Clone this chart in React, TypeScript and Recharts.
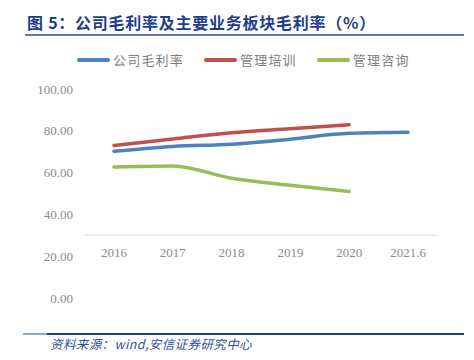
import * as React from "react";
import { LineChart, Line, XAxis, YAxis, ReferenceLine, ReferenceDot } from "recharts";

// 毛利率 (%)
const years = ["2016", "2017", "2018", "2019", "2020", "2021.6"];
const companyMargin = [70.2, 72.5, 73.6, 76.0, 78.8, 79.3];
const trainingMargin = [73.0, 76.1, 79.1, 81.0, 82.9, null];
const consultingMargin = [62.7, 63.2, 57.3, 53.9, 51.0, null];
const yTicks = [0, 20, 40, 60, 80, 100];
const axisCross = 30;

const COLORS = {
  company: "#4F81BD",
  training: "#C0504D",
  consulting: "#9BBB59",
  tick: "#8C8C8C",
  axis: "#E3E3E3",
  title: "#1F3E8C",
  titleRule: "#5F79B8",
  footer: "#2F4F9E",
  footerRule: "#1F3C88",
};

const SERIES = [
  { key: "company", name: "公司毛利率", color: COLORS.company },
  { key: "training", name: "管理培训", color: COLORS.training },
  { key: "consulting", name: "管理咨询", color: COLORS.consulting },
];

const data = years.map((year, i) => ({
  year,
  company: companyMargin[i],
  training: trainingMargin[i],
  consulting: consultingMargin[i],
}));

const serif = '"Liberation Serif", "DejaVu Serif", serif';
const cjk = '"Noto Sans CJK SC", "Noto Sans", sans-serif';

function YearLabel(props: any) {
  const { viewBox, value } = props;
  return (
    <text
      x={viewBox.x + viewBox.width / 2}
      y={viewBox.y + viewBox.height / 2 + 22}
      textAnchor="middle"
      fill={COLORS.tick}
      fontSize={13}
      fontFamily={serif}
    >
      {value}
    </text>
  );
}

export default function App() {
  return (
    <div
      style={{
        position: "absolute",
        left: 0,
        top: 0,
        width: 474,
        height: 360,
        background: "#FFFFFF",
        overflow: "hidden",
      }}
    >
      <div
        style={{
          position: "absolute",
          left: 27,
          top: 12,
          fontFamily: cjk,
          fontWeight: 700,
          fontSize: 16,
          letterSpacing: 0.75,
          color: COLORS.title,
          whiteSpace: "nowrap",
          lineHeight: "20px",
        }}
      >
        图 5：公司毛利率及主要业务板块毛利率（%）
      </div>
      <div
        style={{
          position: "absolute",
          left: 25,
          top: 34,
          width: 439,
          height: 1.5,
          background: COLORS.titleRule,
        }}
      />

      <div
        style={{
          position: "absolute",
          left: 77,
          top: 50,
          display: "flex",
          alignItems: "center",
          fontFamily: cjk,
          fontSize: 13,
          letterSpacing: 1.2,
          color: "#7F7F7F",
          whiteSpace: "nowrap",
        }}
      >
        {SERIES.map((s, i) => (
          <div
            key={s.key}
            style={{ display: "flex", alignItems: "center", marginRight: i < 2 ? 20 : 0 }}
          >
            <span
              style={{
                display: "inline-block",
                width: 33,
                height: 4,
                borderRadius: 2,
                background: s.color,
                marginRight: 3,
              }}
            />
            <span>{s.name}</span>
          </div>
        ))}
      </div>

      <div style={{ position: "absolute", left: 0, top: 0 }}>
        <LineChart
          width={474}
          height={360}
          data={data}
          margin={{ top: 89, right: 37, bottom: 62, left: 25 }}
        >
          <XAxis dataKey="year" hide padding={{ left: 29, right: 29 }} />
          <YAxis
            width={60}
            domain={[0, 100]}
            ticks={yTicks}
            interval={0}
            axisLine={false}
            tickLine={false}
            tickMargin={6}
            tickFormatter={(v: number) => v.toFixed(2)}
            tick={{ fill: COLORS.tick, fontSize: 13, fontFamily: serif }}
          />
          <ReferenceLine y={axisCross} stroke={COLORS.axis} strokeWidth={1.5} />
          {years.map((year) => (
            <ReferenceDot
              key={year}
              x={year}
              y={axisCross}
              r={0}
              fill="none"
              stroke="none"
              label={<YearLabel value={year} />}
            />
          ))}
          {SERIES.map((s) => (
            <Line
              key={s.key}
              type="monotone"
              dataKey={s.key}
              name={s.name}
              stroke={s.color}
              strokeWidth={3.5}
              strokeLinecap="round"
              dot={false}
              activeDot={false}
              isAnimationActive={false}
            />
          ))}
        </LineChart>
      </div>

      <div
        style={{
          position: "absolute",
          left: 23,
          top: 333,
          width: 441,
          height: 1.5,
          background: COLORS.footerRule,
        }}
      />
      <div
        style={{
          position: "absolute",
          left: 23,
          top: 333,
          width: 24,
          height: 1.5,
          background: "#8EA4D4",
        }}
      />
      <div
        style={{
          position: "absolute",
          left: 50,
          top: 336,
          fontFamily: cjk,
          fontStyle: "italic",
          fontSize: 12.5,
          letterSpacing: 0.4,
          color: COLORS.footer,
          whiteSpace: "nowrap",
          lineHeight: "16px",
        }}
      >
        资料来源：wind,安信证券研究中心
      </div>
    </div>
  );
}
